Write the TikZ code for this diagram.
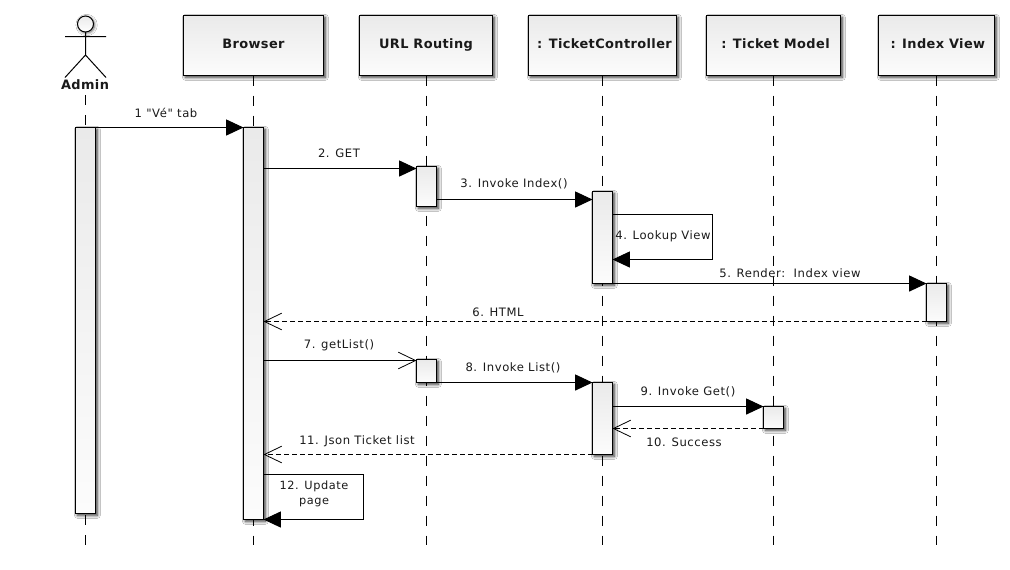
\documentclass[tikz,border=0pt]{standalone}
\usepackage{fontspec}
\setmainfont{DejaVu Sans}
\newfontfamily\lblfont[LetterSpace=5]{DejaVu Sans}
\newfontfamily\hdfont[LetterSpace=3]{DejaVu Sans}
\usetikzlibrary{arrows.meta,shadows.blur,calc}
\definecolor{ink}{HTML}{1A1A1A}
\definecolor{shTop}{HTML}{EAEAEA}
\definecolor{shMid}{HTML}{E3E3E3}
\definecolor{shBot}{HTML}{FCFCFC}
\tikzset{
  x=0.75pt,y=-0.75pt,
  soft/.style={blur shadow={shadow xshift=1.4pt,shadow yshift=-1.4pt,shadow blur radius=2.2pt,shadow blur steps=8,shadow opacity=80}},
  boxbase/.style={draw=black,line width=0.75pt,soft,anchor=north west,inner sep=0pt,outer sep=0pt,
     top color=shTop,middle color=shMid,bottom color=shBot},
  header/.style={boxbase,minimum height=45pt,font=\hdfont\fontsize{9.7}{11}\selectfont\bfseries,text=ink,text height=7.2pt,text depth=2pt},
  bar/.style={boxbase,minimum width=15pt},
  lifeline/.style={draw=black,line width=0.75pt,dash pattern=on 7.5pt off 7.5pt},
  msg/.style={draw=black,line width=0.75pt},
  call/.style={msg,-{Triangle[length=13pt,width=12pt,fill=black]}},
  open/.style={msg,-{Straight Barb[length=13pt,width=12.5pt,line width=0.6pt]}},
  reply/.style={open,dash pattern=on 3.5pt off 2.5pt},
  lbl/.style={font=\lblfont\fontsize{8.7}{12}\selectfont,text=ink,inner sep=0pt,align=center},
  one/.style={lbl,text height=8pt,text depth=2pt},
}
\begin{document}
\begin{tikzpicture}
\useasboundingbox[fill=white] (0,0) rectangle (1010,569);
% lifeline ends
\coordinate (eA) at (85.5,545);
\coordinate (eB) at (253.5,545);
\coordinate (eU) at (426.5,545);
\coordinate (eC) at (602.5,545);
\coordinate (eT) at (773.5,545);
\coordinate (eI) at (936.5,545);
\coordinate (aHead) at (85.5,24);
\coordinate (sA) at (85.5,95);
% headers
\node[header,minimum width=105pt] (hB) at (183.5,15.5) {Browser};
\node[header,minimum width=99.75pt] (hU) at (359.5,15.5) {URL Routing};
\node[header,minimum width=111pt] (hC) at (528.5,15.5) {\hspace*{3pt}: TicketController};
\node[header,minimum width=100.5pt] (hT) at (706.5,15.5) {\hspace*{3pt}: Ticket Model};
\node[header,minimum width=87pt] (hI) at (878.5,15.5) {\hspace*{2pt}: Index View};
% lifelines
\draw[lifeline] (sA) -- (eA);
\draw[lifeline] (hB.south -| eB) -- (eB);
\draw[lifeline] (hU.south -| eU) -- (eU);
\draw[lifeline] (hC.south -| eC) -- (eC);
\draw[lifeline] (hT.south -| eT) -- (eT);
\draw[lifeline] (hI.south -| eI) -- (eI);
% actor
\shade[top color=shTop,bottom color=white,draw=black,line width=0.75pt,blur shadow={shadow xshift=0.8pt,shadow yshift=-0.8pt,shadow blur radius=2pt,shadow blur steps=6,shadow opacity=60}] (aHead) circle[radius=6pt];
\draw[line width=0.75pt] (85.5,32) -- (85.5,55) (65,36.5) -- (106,36.5) (65,77.5) -- (85.5,55) -- (106,77.5);
\node[font=\hdfont\fontsize{9.7}{11}\selectfont\bfseries,text=ink,inner sep=0pt] (tA) at (85,85) {Admin};
% activation bars
\node[bar,minimum height=289.5pt] (bA) at (75.5,127.5) {};
\node[bar,minimum height=294pt] (bB) at (243.5,127.5) {};
\node[bar,minimum height=30pt] (bU1) at (416.5,166.5) {};
\node[bar,minimum height=69pt] (bC1) at (592.5,191.5) {};
\node[bar,minimum height=28.5pt] (bI) at (926.5,283.5) {};
\node[bar,minimum height=17.25pt] (bU2) at (416.5,359.5) {};
\node[bar,minimum height=54pt] (bC2) at (592.5,382.5) {};
\node[bar,minimum height=16.5pt] (bT) at (763.5,406.5) {};
% message anchors
\coordinate (m2) at (0,168.5);
\coordinate (m3) at (0,199.5);
\coordinate (m4a) at (0,214.5);
\coordinate (m4b) at (0,259.5);
\coordinate (m7) at (0,360.5);
\coordinate (m10) at (0,428.5);
\coordinate (m12) at (0,474.5);
\coordinate (cr4) at (712.5,0);
\coordinate (cr12) at (363.5,0);
% messages
\draw[call] (bA.north east) -- (bB.north west);
\draw[call] (bB.east |- m2) -- (bU1.west |- m2);
\draw[call] (bU1.east |- m3) -- (bC1.west |- m3);
\draw[call] (bC1.east |- m4a) -- (cr4 |- m4a) -- (cr4 |- m4b) -- (bC1.east |- m4b);
\draw[call] (bC1.south east) -- (bI.north west);
\draw[reply] (bI.south west) -- (bI.south west -| bB.east);
\draw[open] (bB.east |- m7) -- (bU2.west |- m7);
\draw[call] (bU2.south east) -- (bC2.north west);
\draw[call] (bC2.east |- bT.north) -- (bT.north west);
\draw[reply] (bT.west |- m10) -- (bC2.east |- m10);
\draw[reply] (bC2.south west) -- (bC2.south west -| bB.east);
\draw[call] (bB.east |- m12) -- (cr12 |- m12) -- (cr12 |- bB.south) -- (bB.south east);
% labels
\node[one] (l1) at (166,113) {1 "Vé" tab};
\node[one] (l2) at (339,153) {2. GET};
\node[one] (l3) at (514,183) {3. Invoke Index()};
\node[one] (l4) at (663,235) {4. Lookup View};
\node[one] (l5) at (790,273) {5. Render:\ \ Index view};
\node[one] (l6) at (498,312) {6. HTML};
\node[one] (l7) at (339,344) {7. getList()};
\node[one] (l8) at (513,367) {8. Invoke List()};
\node[one] (l9) at (688,391) {9. Invoke Get()};
\node[one] (l10) at (684,442) {10. Success};
\node[one] (l11) at (357,440) {11. Json Ticket list};
\node[lbl,font=\lblfont\fontsize{8.5}{11.4}\selectfont] (l12) at (314,494) {12. Update\\page};
\end{tikzpicture}
\end{document}
